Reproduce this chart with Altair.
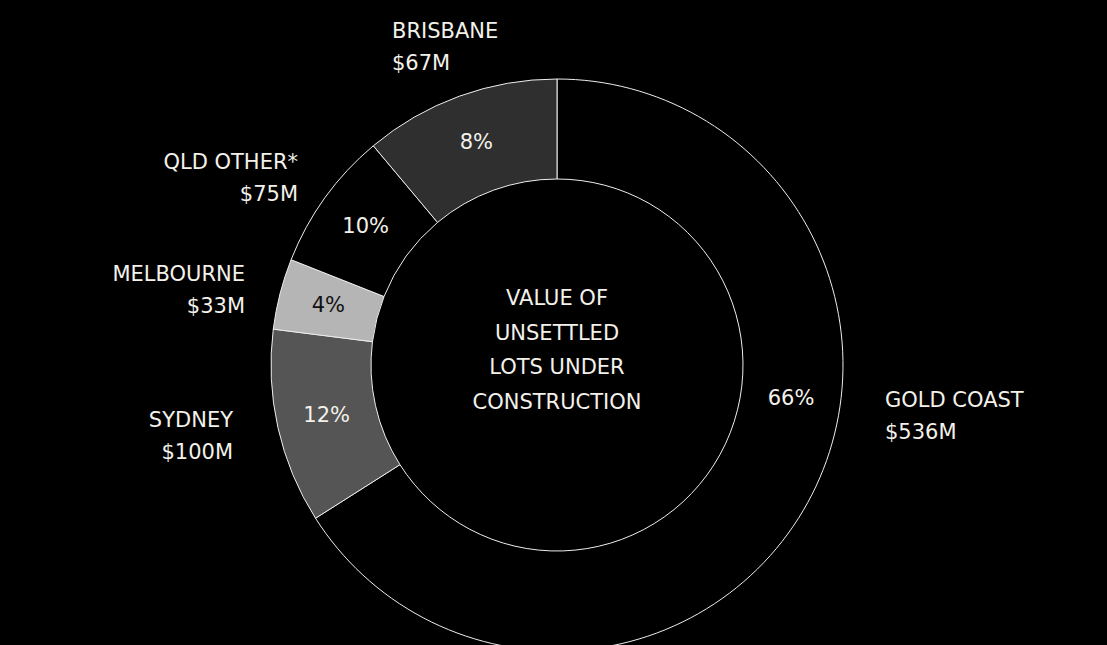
import altair as alt
import pandas as pd

# ---- data ----
regions = ["GOLD COAST", "SYDNEY", "MELBOURNE", "QLD OTHER*", "BRISBANE"]
values_m = [536, 100, 33, 75, 67]                 # $M
share_drawn = [66.0, 11.0, 4.0, 7.9, 11.1]        # slice size as drawn (% of ring)
pct_labels = ["66%", "12%", "4%", "10%", "8%"]
center_lines = ["VALUE OF", "UNSETTLED", "LOTS UNDER", "CONSTRUCTION"]

# ---- styling ----
FONT = "DejaVu Sans"
FS = 21
TXT = "#f3f1ea"
fills = ["#000000", "#555555", "#b5b5b5", "#000000", "#2f2f2f"]
pct_colors = [TXT, TXT, "#111111", TXT, TXT]
CX, CY = 557, 365
R_OUT, R_IN = 286, 186

df = pd.DataFrame({
    "region": regions,
    "value": values_m,
    "share": share_drawn,
    "pct": pct_labels,
    "idx": list(range(len(regions))),
})

base = alt.Chart(df)

arcs = base.mark_arc(
    outerRadius=R_OUT, innerRadius=R_IN, stroke="#eeeeee", strokeWidth=1
).encode(
    theta=alt.Theta("share:Q", stack=True),
    order=alt.Order("idx:Q"),
    color=alt.Color("region:N", scale=alt.Scale(domain=regions, range=fills), legend=None),
    x=alt.value(CX),
    y=alt.value(CY),
)

pct = base.mark_text(
    radius=236, font=FONT, fontSize=FS, align="center", baseline="middle"
).encode(
    theta=alt.Theta("share:Q", stack=True),
    order=alt.Order("idx:Q"),
    text="pct:N",
    fill=alt.Fill("region:N", scale=alt.Scale(domain=regions, range=pct_colors), legend=None),
    opacity=alt.condition(alt.datum.region == "GOLD COAST", alt.value(0), alt.value(1)),
    x=alt.value(CX),
    y=alt.value(CY),
)

gc_pct = base.transform_filter(alt.datum.region == "GOLD COAST").mark_text(
    font=FONT, fontSize=FS, align="center", baseline="middle", color=TXT
).encode(text="pct:N", x=alt.value(791), y=alt.value(399))

# outside labels: (x, first baseline y, align)
label_layout = {
    "BRISBANE": (392, 38, "left"),
    "QLD OTHER*": (298, 169, "right"),
    "MELBOURNE": (245, 281, "right"),
    "SYDNEY": (233, 427, "right"),
    "GOLD COAST": (885, 407, "left"),
}

layers = [arcs, pct, gc_pct]
for reg, (lx, ly, al) in label_layout.items():
    layers.append(
        base.transform_filter(alt.datum.region == reg)
        .transform_calculate(lbl=alt.datum.region + "\n$" + alt.datum.value + "M")
        .mark_text(font=FONT, fontSize=FS, align=al, baseline="alphabetic",
                   lineBreak="\n", lineHeight=31.5, color=TXT)
        .encode(text="lbl:N", x=alt.value(lx), y=alt.value(ly))
    )

center = alt.Chart(pd.DataFrame({"t": ["\n".join(center_lines)]})).mark_text(
    font=FONT, fontSize=FS, align="center", baseline="alphabetic",
    lineBreak="\n", lineHeight=34.5, color=TXT
).encode(text="t:N", x=alt.value(CX), y=alt.value(305))
layers.append(center)

chart = alt.layer(*layers).properties(
    width=1107, height=645, background="#000000", padding=0,
    autosize=alt.AutoSizeParams(type="none"),
).configure_view(stroke=None)

chart.save("out.html", embed_options={"renderer": "svg", "actions": False})
